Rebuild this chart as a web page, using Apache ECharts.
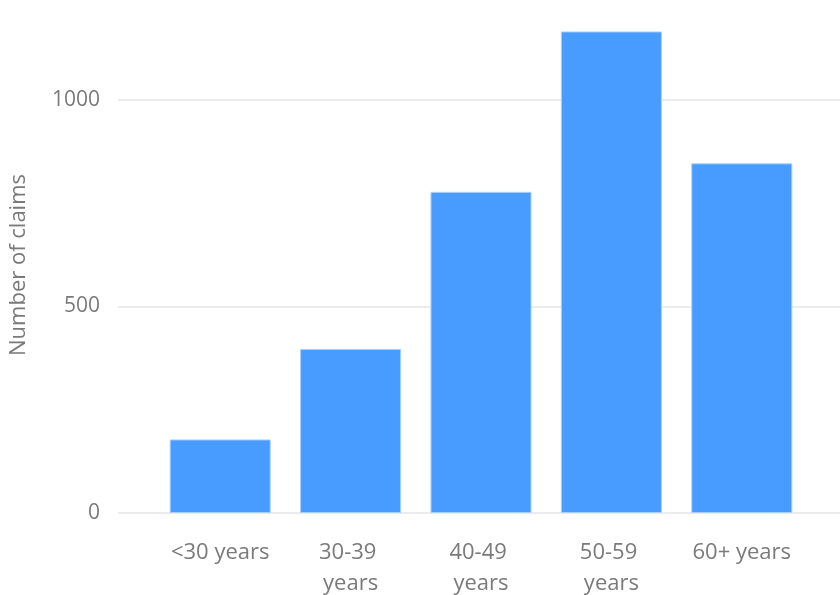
<!DOCTYPE html>
<html>
<head>
<meta charset="utf-8">
<script src="https://cdn.jsdelivr.net/npm/echarts@6/dist/echarts.min.js"></script>
<style>
  html, body { margin: 0; padding: 0; background: #fff; }
  #chart { width: 840px; height: 595px; }
</style>
</head>
<body>
<div id="chart"></div>
<script>
// Claims by age group
const ageGroups = ['<30 years', '30-39 years', '40-49 years', '50-59 years', '60+ years'];
const claimCounts = [178, 397, 777, 1165, 846];
const yTicks = [0, 500, 1000];

const FONT = '"Open Sans", "Noto Sans", sans-serif';
const TEXT_COLOR = '#7a7a7a';
const GRID_COLOR = '#ebebeb';
const Y_MAX = 1200;

const chart = echarts.init(document.getElementById('chart'), null, { renderer: 'canvas' });

chart.setOption({
  animation: false,
  backgroundColor: '#ffffff',
  textStyle: { fontFamily: FONT },
  grid: [
    // frame carrying the value axis and its gridlines
    { left: 118, right: 0, top: 17, bottom: 82, containLabel: false, outerBoundsMode: 'none' },
    // frame carrying the bars
    { left: 155, right: 33, top: 17, bottom: 82, containLabel: false, outerBoundsMode: 'none' }
  ],
  xAxis: [
    { type: 'category', gridIndex: 0, data: [''], show: false },
    {
      type: 'category',
      gridIndex: 1,
      data: ageGroups,
      axisLine: { show: false },
      axisTick: { show: false },
      axisLabel: {
        color: TEXT_COLOR,
        fontSize: 22,
        fontFamily: FONT,
        margin: 24,
        lineHeight: 31,
        width: 110,
        overflow: 'break',
        interval: 0
      }
    }
  ],
  yAxis: [
    {
      type: 'value',
      gridIndex: 0,
      min: yTicks[0],
      max: Y_MAX,
      interval: yTicks[1] - yTicks[0],
      name: 'Number of claims',
      nameLocation: 'middle',
      nameGap: 88,
      nameTextStyle: { color: TEXT_COLOR, fontSize: 22, fontFamily: FONT },
      axisLine: { show: false },
      axisTick: { show: false },
      axisLabel: {
        color: TEXT_COLOR,
        fontSize: 21,
        fontFamily: FONT,
        margin: 18,
        showMaxLabel: false,
        formatter: (v) => String(v)
      },
      splitLine: {
        show: true,
        showMaxLine: false,
        lineStyle: { color: GRID_COLOR, width: 2 }
      }
    },
    {
      type: 'value',
      gridIndex: 1,
      min: yTicks[0],
      max: Y_MAX,
      show: false,
      splitLine: { show: false }
    }
  ],
  series: [
    {
      type: 'bar',
      xAxisIndex: 1,
      yAxisIndex: 1,
      data: claimCounts,
      barWidth: '77.5%',
      itemStyle: {
        color: '#489cff',
        borderColor: '#a9cfff',
        borderWidth: 1
      }
    }
  ]
});
</script>
</body>
</html>
